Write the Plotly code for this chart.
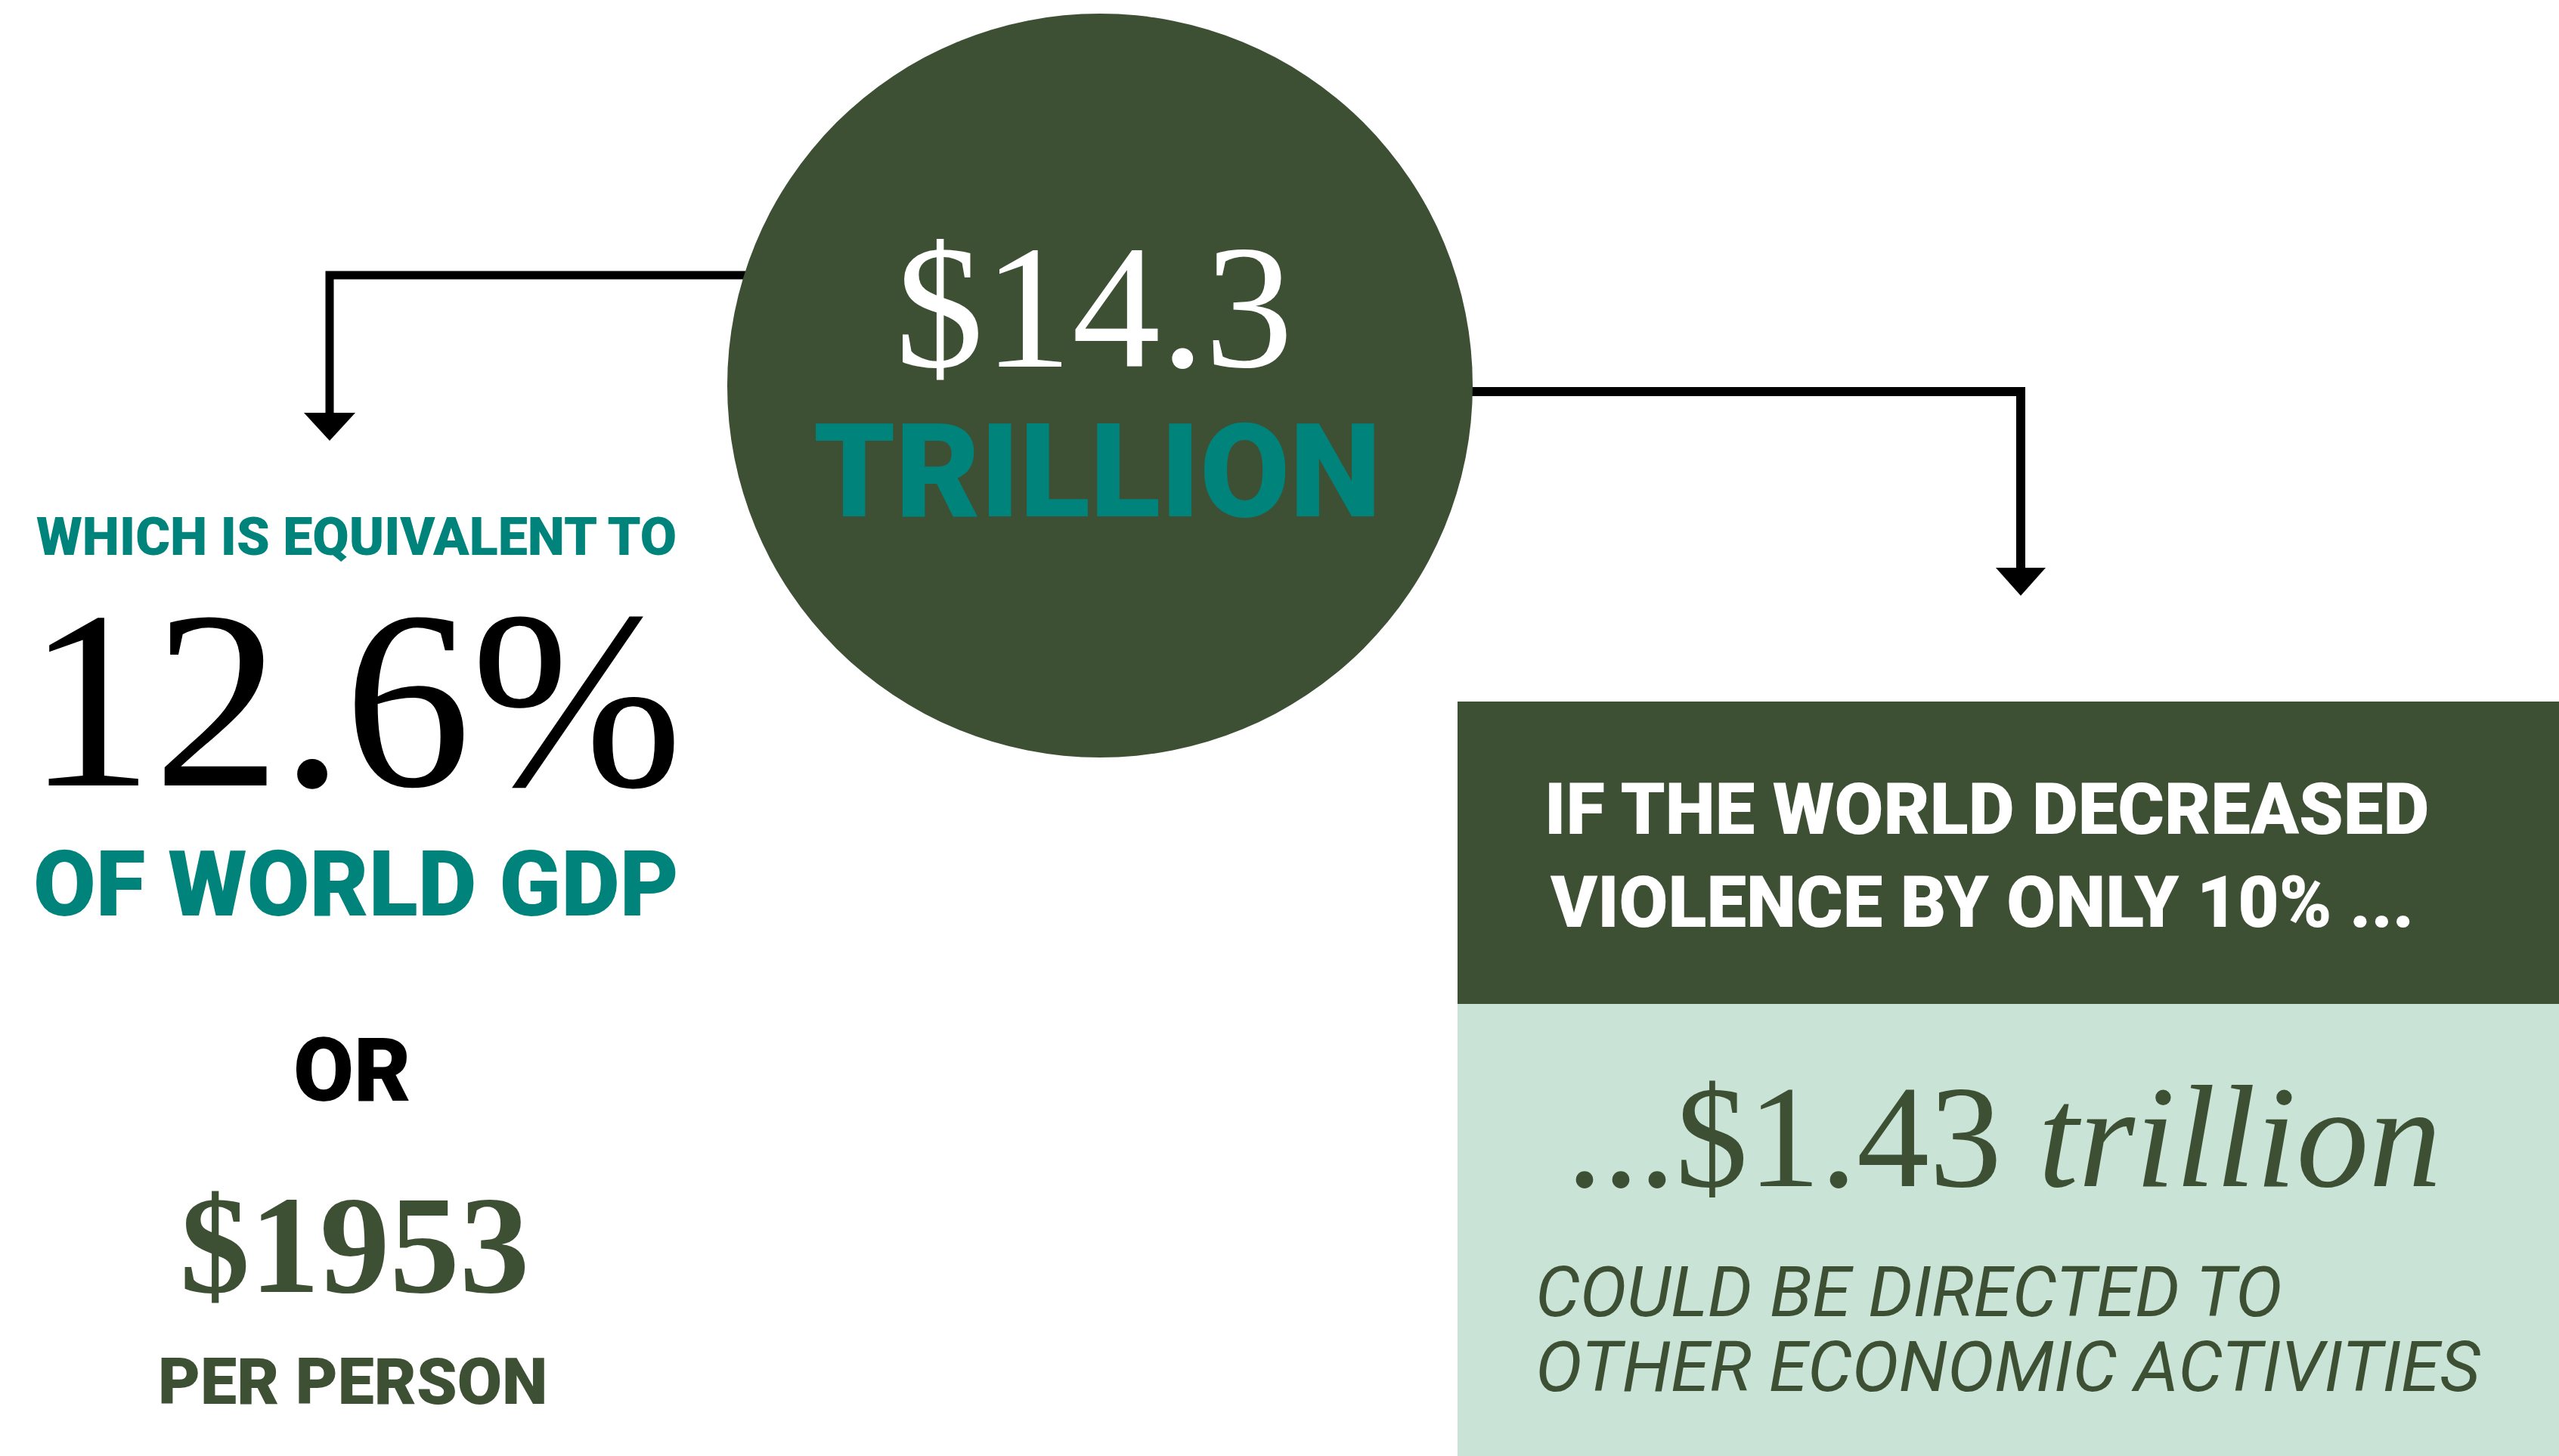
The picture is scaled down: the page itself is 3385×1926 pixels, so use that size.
import plotly.graph_objects as go

W, H = 3385, 1926
DARK = "#3d5034"
TEAL = "#00837b"
MINT = "#c9e4d6"
SANS = "Roboto"
SERIF = "Liberation Serif"

# texts of the infographic
headline_value = "$14.3"
headline_unit = "TRILLION"
left_lead = "WHICH IS EQUIVALENT TO"
gdp_share = "12.6%"
gdp_label = "OF WORLD GDP"
joiner = "OR"
per_person_value = "$1953"
per_person_label = "PER PERSON"
box_head = ["IF THE WORLD DECREASED", "VIOLENCE BY ONLY 10% ..."]
box_value = "...$1.43 <i>trillion</i>"
box_note = ["COULD BE DIRECTED TO", "OTHER ECONOMIC ACTIVITIES"]

fig = go.Figure()

shapes = [
    # connectors sit behind the circle
    dict(type="path", path="M 1000,364 L 436,364 L 436,550",
         line=dict(color="black", width=11)),
    dict(type="path", path="M 402,546 L 470,546 L 436,583 Z",
         fillcolor="black", line=dict(width=0)),
    dict(type="path", path="M 1930,518 L 2673,518 L 2673,755",
         line=dict(color="black", width=12)),
    dict(type="path", path="M 2640,751 L 2706,751 L 2673,788 Z",
         fillcolor="black", line=dict(width=0)),
    dict(type="circle", x0=962, x1=1948, y0=18, y1=1002,
         fillcolor=DARK, line=dict(width=0)),
    dict(type="rect", x0=1928, x1=W + 10, y0=928, y1=1328,
         fillcolor=DARK, line=dict(width=0)),
    dict(type="rect", x0=1928, x1=W + 10, y0=1328, y1=H + 10,
         fillcolor=MINT, line=dict(width=0)),
]


def label(text, x, y, size, color, family=SANS, weight="bold", style="normal", xanchor="center"):
    return dict(text=text, x=x, y=y, xref="x", yref="y", showarrow=False,
                xanchor=xanchor, yanchor="middle",
                font=dict(family=family, size=size, color=color, weight=weight, style=style))


annotations = [
    label(headline_value, 1447, 406, 234, "white", family=SERIF, weight="normal"),
    label(headline_unit, 1451, 624, 172, TEAL, weight=900),
    label(left_lead, 471, 710, 70, TEAL, weight=900),
    label(gdp_share, 469, 926, 336, "black", family=SERIF, weight="normal"),
    label(gdp_label, 471, 1170, 120, TEAL, weight=900),
    label(joiner, 466, 1416, 116, "black", weight=900),
    label(per_person_value, 469, 1646, 185, DARK, family=SERIF),
    label(per_person_label, 467, 1827, 86, DARK, weight=900),
    label(box_head[0], 2628, 1071, 94, "white", weight=900),
    label(box_head[1], 2621, 1194, 94, "white", weight=900),
    label(box_value, 2650, 1504, 192, DARK, family=SERIF, weight="normal"),
    label(box_note[0], 2029, 1709, 93, DARK, weight="normal",
          style="italic", xanchor="left"),
    label(box_note[1], 2029, 1808, 93, DARK, weight="normal",
          style="italic", xanchor="left"),
]

fig.update_layout(
    width=W, height=H,
    margin=dict(l=0, r=0, t=0, b=0),
    paper_bgcolor="white", plot_bgcolor="white",
    xaxis=dict(range=[0, W], visible=False, fixedrange=True),
    yaxis=dict(range=[H, 0], visible=False, fixedrange=True),
    shapes=shapes,
    annotations=annotations,
    showlegend=False,
)

fig.write_html("out.html", config={"displayModeBar": False},
               post_script="document.body.style.margin='0';")
